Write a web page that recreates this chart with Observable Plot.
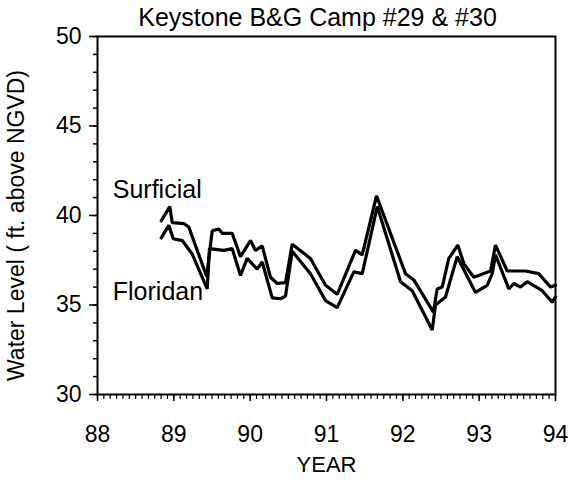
<!DOCTYPE html>
<html>
<head>
<meta charset="utf-8">
<script src="https://cdn.jsdelivr.net/npm/d3@7"></script>
<script src="https://cdn.jsdelivr.net/npm/@observablehq/plot@0.6"></script>
<style>
  html, body { margin: 0; padding: 0; background: #fff; }
  #chart svg { display: block; }
</style>
</head>
<body>
<div id="chart"></div>
<script>
// Surficial aquifer (upper line) — vertices
const surfYear = [88.835, 88.947, 88.979, 89.131, 89.196, 89.43, 89.503, 89.589, 89.634, 89.765, 89.873, 90.004, 90.07, 90.158, 90.266, 90.354, 90.463, 90.551, 90.79, 90.987, 91.14, 91.38, 91.468, 91.655, 92.035, 92.144, 92.40, 92.45, 92.516, 92.602, 92.72, 92.80, 92.93, 93.149, 93.214, 93.367, 93.607, 93.78, 93.935, 94.0];
const surfLevel = [39.7, 40.5, 39.6, 39.55, 39.35, 36.6, 39.15, 39.25, 39.0, 39.0, 37.7, 38.6, 38.05, 38.3, 36.55, 36.2, 36.25, 38.4, 37.6, 36.1, 35.6, 38.05, 37.8, 41.1, 36.75, 36.4, 34.6, 35.9, 36.0, 37.6, 38.35, 37.3, 36.55, 36.9, 38.35, 36.9, 36.9, 36.75, 36.0, 36.1];

// Floridan aquifer (lower line)
const florYear = [88.835, 88.934, 88.992, 89.11, 89.24, 89.437, 89.467, 89.655, 89.765, 89.873, 89.961, 90.092, 90.158, 90.289, 90.398, 90.463, 90.551, 90.79, 90.987, 91.14, 91.358, 91.468, 91.665, 91.97, 92.123, 92.385, 92.428, 92.559, 92.712, 92.952, 93.105, 93.171, 93.214, 93.389, 93.455, 93.542, 93.63, 93.826, 93.957, 94.0];
const florLevel = [38.75, 39.45, 38.7, 38.6, 37.85, 35.9, 38.15, 38.05, 38.15, 36.65, 37.6, 37.0, 37.4, 35.4, 35.35, 35.5, 38.0, 36.75, 35.25, 34.85, 36.85, 36.75, 40.5, 36.3, 35.8, 33.6, 35.0, 35.45, 37.7, 35.7, 36.1, 36.75, 37.8, 35.9, 36.2, 36.0, 36.3, 35.8, 35.15, 35.45];

const xTicks = [88, 89, 90, 91, 92, 93, 94];
const yTicks = [30, 35, 40, 45, 50];
const yMinorTicks = d3.range(30, 51, 1);
const xMinorTicks = d3.range(0, 73).map(i => 88 + i / 12);

const titleText = "Keystone B&G Camp #29 & #30";
const yLabel = "Water Level ( ft. above NGVD)";
const xLabel = "YEAR";
const seriesNames = ["Surficial", "Floridan"];
const seriesLabelYear = [88.2, 88.2];
const seriesLabelLevel = [41.4, 35.75];

const surf = surfYear.map((x, i) => ({x, y: surfLevel[i]}));
const flor = florYear.map((x, i) => ({x, y: florLevel[i]}));
const labels = seriesNames.map((name, i) => ({name, year: seriesLabelYear[i], level: seriesLabelLevel[i]}));

const font = "'Liberation Sans', Arial, Helvetica, sans-serif";

const chart = Plot.plot({
  width: 570,
  height: 482,
  marginLeft: 97,
  marginRight: 15,
  marginTop: 36,
  marginBottom: 88,
  style: {fontFamily: font, fontSize: "22px", color: "#000", background: "#fff", overflow: "visible"},
  x: {domain: [88, 94]},
  y: {domain: [30, 50]},
  marks: [
    Plot.axisY({ticks: yMinorTicks, tickSize: 4, tickFormat: () => "", strokeWidth: 1.5, label: null}),
    Plot.axisY({ticks: yTicks, tickSize: 8, tickPadding: 8, tickFormat: d3.format("d"), fontSize: 23, strokeWidth: 1.5, label: null}),
    Plot.axisX({ticks: xMinorTicks, tickSize: 5, tickFormat: () => "", strokeWidth: 1.2, label: null}),
    Plot.axisX({ticks: xTicks, tickSize: 7, tickPadding: 24, tickFormat: d3.format("d"), fontSize: 23, strokeWidth: 1.5, label: null}),
    Plot.frame({stroke: "#000", strokeWidth: 2}),
    Plot.line(surf, {x: "x", y: "y", stroke: "#000", strokeWidth: 3.2, strokeLinejoin: "miter"}),
    Plot.line(flor, {x: "x", y: "y", stroke: "#000", strokeWidth: 3.2, strokeLinejoin: "miter"}),
    Plot.text(labels, {x: "year", y: "level", text: "name", textAnchor: "start", fontSize: 25, letterSpacing: 1.6, fill: "#000"}),
    Plot.text([titleText], {frameAnchor: "top", dx: -9, dy: -28, fontSize: 25, letterSpacing: 1.6, fill: "#000"}),
    Plot.text([xLabel], {frameAnchor: "bottom", dy: 77, fontSize: 22, letterSpacing: 1, fill: "#000"}),
    Plot.text([yLabel], {frameAnchor: "left", textAnchor: "middle", dx: -81, dy: 10, rotate: -90, fontSize: 23, letterSpacing: 0.6, fill: "#000"})
  ]
});

document.getElementById("chart").appendChild(chart);
</script>
</body>
</html>
